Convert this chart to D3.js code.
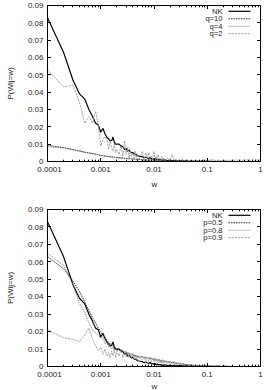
<!DOCTYPE html>
<html><head><meta charset="utf-8">
<script src="https://cdn.jsdelivr.net/npm/d3@7"></script>
<style>
body{margin:0;background:#fff}
svg{display:block}
text{font-family:"Liberation Sans",Arial,Helvetica,sans-serif;font-size:8px;fill:#1a1a1a}
</style>
</head><body>
<svg id="chart" width="265" height="390"></svg>
<script>
// shared w bins
const wGrid = [
  0.0001,0.0002,0.0003,0.0004,0.0005,0.0006,0.0007,0.0008,0.0009,0.0010,
  0.0011,0.0012,0.0013,0.0014,0.0015,0.0016,0.0017,0.0018,0.0019,0.0020,
  0.0022,0.0024,0.0026,0.0028,0.0030,0.0032,0.0034,0.0036,0.0038,0.0040,0.0042,0.0044,0.0046,0.0048,0.0050,
  0.0055,0.0060,0.0065,0.0070,0.0075,0.0080,0.0085,0.0090,0.0095,0.0100,
  0.0105,0.0110,0.0115,0.0120,0.0125,0.0130,0.0135,0.0140,0.0145,0.0150,
  0.016,0.018,0.020,0.022,0.024,0.026,0.028,0.030,0.032,0.034,0.036,0.038,0.040,0.042,0.044,0.046,0.048,0.050,
  0.055,0.060,0.065,0.070,0.075,0.080,0.085,0.090,0.095,0.100,
  0.12,0.14,0.16,0.18,0.20,0.22,0.24,0.26,0.28,0.30,
  0.35,0.40,0.45,0.50,0.55,0.60,0.65,0.70,0.75,0.80,0.85,0.90,0.95,1.00
];

const nk = [
  0.083,0.063,0.047,0.039,0.036,0.030,0.026,0.022,0.021,0.017,
  0.019,0.016,0.014,0.013,0.012,0.012,0.014,0.011,0.010,0.010,
  0.010,0.009,0.0085,0.007,0.0075,0.006,0.0065,0.0055,0.005,0.0052,0.0045,0.004,0.0042,0.0035,0.0033,
  0.003,0.0028,0.0022,0.0026,0.002,0.0018,0.0023,0.0015,0.0017,0.0012,
  0.0016,0.001,0.0014,0.0009,0.0012,0.0008,0.0011,0.0007,0.001,0.0006,
  0.0009,0.0005,0.0008,0.0004,0.0007,0.0003,0.0006,0.0003,0.0005,0.0002,0.0004,0.0002,0.0004,0.0001,0.0003,0.0001,0.0003,0.0001,
  0.0002,0.0001,0.0002,0.0001,0.0001,0.0004,0.0001,0.0001,0.0002,0.0001,
  0.0001,0,0.0001,0,0,0.0001,0,0,0,0
];

const q10 = [
  0.0094,0.008,0.0068,0.0062,0.0052,0.005,0.0045,0.0043,0.0038,0.0035,
  0.0034,0.0031,0.003,0.0029,0.0027,0.0027,0.0025,0.0025,0.0024,0.0023,
  0.0022,0.0020,0.0021,0.0018,0.0019,0.0017,0.0016,0.0017,0.0015,0.0014,0.0015,0.0013,0.0012,0.0013,0.0011,
  0.0011,0.001,0.0009,0.001,0.0008,0.0009,0.0007,0.0008,0.0007,0.0006,
  0.0007,0.0005,0.0006,0.0005,0.0004,0.0005,0.0004,0.0003,0.0004,0.0003,
  0.0003,0.0002,0.0003,0.0002,0.0002,0.0001,0.0002,0.0001,0.0001,0.0001,0.0001,0,0.0001,0,0.0001,0,0,0
];

const q4 = [
  0.0085,0.0078,0.007,0.0058,0.0056,0.0048,0.0047,0.004,0.0041,0.0036,
  0.0033,0.0033,0.0029,0.003,0.0027,0.0025,0.0026,0.0023,0.0024,0.0021,
  0.0021,0.0019,0.002,0.0017,0.0018,0.0016,0.0015,0.0016,0.0014,0.0013,0.0014,0.0012,0.0013,0.0011,0.0012,
  0.001,0.0011,0.0009,0.001,0.0008,0.0009,0.0007,0.0008,0.0006,0.0007,
  0.0006,0.0005,0.0006,0.0004,0.0005,0.0004,0.0005,0.0003,0.0004,0.0003,
  0.0003,0.0002,0.0003,0.0002,0.0002,0.0001,0.0002,0.0001,0.0001,0.0001,0.0001,0.0001,0,0.0001,0,0,0,0
];

const q2 = [
  0.053,0.043,0.044,0.034,0.022,0.026,0.022,0.029,0.021,0.009,
  0.013,0.014,0.013,0.007,0.012,0.008,0.006,0.010,0.005,0.007,
  0.004,0.009,0.003,0.012,0.004,0.008,0.002,0.006,0.003,0.005,0.002,0.006,0.002,0.004,0.001,
  0.002,0.006,0.001,0.005,0.002,0.005,0.001,0.003,0.0015,0.006,
  0.001,0.003,0.0005,0.004,0.001,0.002,0.0005,0.003,0.001,0.002,
  0.0005,0.002,0.0003,0.004,0.0005,0.0015,0.0003,0.001,0.0002,0.0015,0.0003,0.0008,0.0002,0.001,0.0002,0.0006,0.0001,0.0005,
  0.0003,0.0006,0.0002,0.0005,0.0002,0.0004,0.0003,0.001,0.0003,0.0004,
  0.0012,0.0006,0.0008,0.0005,0.0007,0.0006,0.0008,0.0006,0.0007,0.0008,
  0.0008,0.0009,0.0007,0.0008,0.0009,0.0008,0.0007,0.0008,0.0008,0.0007,0.0008,0.0009,0.0008,0.0008
];

const p05 = [
  0.063,0.056,0.049,0.043,0.037,0.032,0.028,0.025,0.022,0.020,
  0.018,0.017,0.015,0.014,0.013,0.012,0.0115,0.011,0.0105,0.010,
  0.0095,0.009,0.0092,0.0082,0.0085,0.0075,0.0078,0.007,0.0072,0.0065,0.0067,0.006,0.0063,0.0057,0.0059,
  0.0055,0.0057,0.005,0.0053,0.0047,0.005,0.0044,0.0047,0.0041,0.0044,
  0.0038,0.0041,0.0036,0.0039,0.0034,0.0036,0.0032,0.0034,0.003,0.0032,
  0.0029,0.0025,0.0027,0.0021,0.0023,0.0018,0.002,0.0015,0.0017,0.0013,0.0014,0.0011,0.0012,0.0009,0.001,0.0008,0.0009,0.0007,
  0.0006,0.0005,0.0005,0.0004,0.0004,0.0003,0.0004,0.0003,0.0003,0.0002,
  0.0002,0.0001,0.0001,0.0001,0.0001,0,0,0,0,0
];

const p08 = [
  0.065,0.058,0.047,0.036,0.031,0.025,0.021,0.019,0.018,0.016,
  0.017,0.013,0.014,0.011,0.012,0.010,0.011,0.009,0.010,0.009,
  0.0095,0.0085,0.009,0.0078,0.0083,0.007,0.0076,0.0065,0.007,0.006,0.0066,0.0055,0.0062,0.0052,0.0058,
  0.005,0.0058,0.0046,0.0054,0.0043,0.005,0.004,0.0047,0.0037,0.0045,
  0.0034,0.0042,0.0032,0.004,0.003,0.0037,0.0028,0.0034,0.0027,0.0031,
  0.0025,0.003,0.002,0.0026,0.0017,0.0022,0.0014,0.0019,0.0012,0.0016,0.001,0.0014,0.0009,0.0012,0.0008,0.001,0.0007,0.0009,
  0.0006,0.0007,0.0005,0.0006,0.0004,0.0005,0.0004,0.0009,0.0003,0.0004,
  0.0003,0.0002,0.0002,0.0001,0.0001,0.0001,0,0.0001,0,0
];

const p09 = [
  0.021,0.0165,0.0155,0.0143,0.018,0.022,0.016,0.012,0.009,0.011,
  0.007,0.010,0.006,0.008,0.005,0.009,0.006,0.010,0.005,0.009,
  0.006,0.010,0.005,0.008,0.0055,0.0085,0.005,0.007,0.0045,0.0075,0.004,0.006,0.004,0.0065,0.0035,
  0.006,0.0035,0.0055,0.003,0.005,0.003,0.0055,0.0028,0.0045,0.0025,
  0.005,0.0025,0.004,0.0022,0.0045,0.002,0.0035,0.0018,0.004,0.0018,
  0.0035,0.0015,0.003,0.0012,0.0028,0.001,0.0022,0.0009,0.002,0.0008,0.0016,0.0007,0.0014,0.0006,0.0012,0.0005,0.001,0.0004,
  0.0008,0.0004,0.0007,0.0003,0.0009,0.0003,0.0006,0.0012,0.0004,0.0005,
  0.0004,0.0002,0.0003,0.0002,0.0002,0.0001,0.0001,0.0001,0,0
];

const yTicks = [0,0.01,0.02,0.03,0.04,0.05,0.06,0.07,0.08,0.09];
const yTickLabels = ["0","0.01","0.02","0.03","0.04","0.05","0.06","0.07","0.08","0.09"];
const xTicks = [0.0001,0.001,0.01,0.1,1];
const xTickLabels = ["0.0001","0.001","0.01","0.1","1"];
const minorMult = [2,3,4,5,6,7,8,9];
const topNames = ["NK","q=10","q=4","q=2"];
const bottomNames = ["NK","p=0.5","p=0.8","p=0.9"];
const xLabel = "w";
const yLabel = "P(Wij=w)";

const styles = [
  {stroke:"#000", width:1.2, dash:null},
  {stroke:"#1e1e1e", width:0.9, dash:"1.6,0.9"},
  {stroke:"#6a6a6a", width:0.9, dash:"1,1"},
  {stroke:"#9a9a9a", width:0.9, dash:"2.2,1"}
];

const svg = d3.select("#chart");
const L = 47.5, R = 260.5;

function panel(id, top, bottom, series, names, xLabelY) {
  const x = d3.scaleLog().domain([0.0001, 1]).range([L, R]);
  const y = d3.scaleLinear().domain([0, 0.09]).range([bottom, top]);
  const g = svg.append("g");

  g.append("clipPath").attr("id", "clip" + id).append("rect")
    .attr("x", L).attr("y", top).attr("width", R - L).attr("height", bottom - top);

  const line = d3.line().x((d) => x(d[0])).y((d) => y(d[1]));
  const lines = g.append("g").attr("clip-path", "url(#clip" + id + ")");
  series.forEach((vals, i) => {
    const pts = vals.map((v, k) => [wGrid[k], v]);
    const s = styles[i];
    lines.append("path").datum(pts).attr("d", line)
      .attr("fill", "none").attr("stroke", s.stroke).attr("stroke-width", s.width)
      .attr("stroke-linejoin", "round")
      .attr("stroke-dasharray", s.dash);
  });

  // frame
  g.append("rect").attr("x", L).attr("y", top).attr("width", R - L).attr("height", bottom - top)
    .attr("fill", "none").attr("stroke", "#000").attr("stroke-width", 1);

  // y ticks (inward, mirrored)
  yTicks.forEach((t, i) => {
    const yy = Math.round(y(t) - 0.5) + 0.5;
    g.append("line").attr("x1", L).attr("x2", L + 3.5).attr("y1", yy).attr("y2", yy).attr("stroke", "#000");
    g.append("line").attr("x1", R - 3.5).attr("x2", R).attr("y1", yy).attr("y2", yy).attr("stroke", "#000");
    g.append("text").attr("x", 43.5).attr("y", y(t) + 2.7).attr("text-anchor", "end").text(yTickLabels[i]);
  });

  // x ticks
  xTicks.forEach((t, i) => {
    const xx = Math.round(x(t) - 0.5) + 0.5;
    g.append("line").attr("x1", xx).attr("x2", xx).attr("y1", bottom).attr("y2", bottom - 3.5).attr("stroke", "#000");
    g.append("line").attr("x1", xx).attr("x2", xx).attr("y1", top).attr("y2", top + 3.5).attr("stroke", "#000");
    g.append("text").attr("x", x(t) + (i === 0 ? 2 : 0)).attr("y", bottom + 10.5).attr("text-anchor", "middle").text(xTickLabels[i]);
  });
  xTicks.slice(0, -1).forEach((d) => {
    minorMult.forEach((m) => {
      const xx = Math.round(x(d * m) - 0.5) + 0.5;
      g.append("line").attr("x1", xx).attr("x2", xx).attr("y1", bottom).attr("y2", bottom - 1.8).attr("stroke", "#000");
      g.append("line").attr("x1", xx).attr("x2", xx).attr("y1", top).attr("y2", top + 1.8).attr("stroke", "#000");
    });
  });

  // axis labels
  g.append("text").attr("x", (L + R) / 2 + 0.5).attr("y", xLabelY).attr("text-anchor", "middle").text(xLabel);
  g.append("text").attr("transform", `translate(12.5,${(top + bottom) / 2}) rotate(-90)`)
    .attr("text-anchor", "middle").text(yLabel);

  // legend
  names.forEach((n, i) => {
    const ly = top + 5.8 + i * 7.45;
    g.append("text").attr("x", 222.5).attr("y", ly + 2.7).attr("text-anchor", "end")
      .style("font-size", "7.6px").text(n);
    const s = styles[i];
    g.append("line").attr("x1", 228.5).attr("x2", 250.5).attr("y1", ly).attr("y2", ly)
      .attr("stroke", s.stroke).attr("stroke-width", s.width).attr("stroke-dasharray", s.dash);
  });
}

panel("a", 5.5, 161.5, [nk, q10, q4, q2], topNames, 186.5);
panel("b", 209.5, 366.5, [nk, p05, p08, p09], bottomNames, 388.5);
</script>
</body></html>
